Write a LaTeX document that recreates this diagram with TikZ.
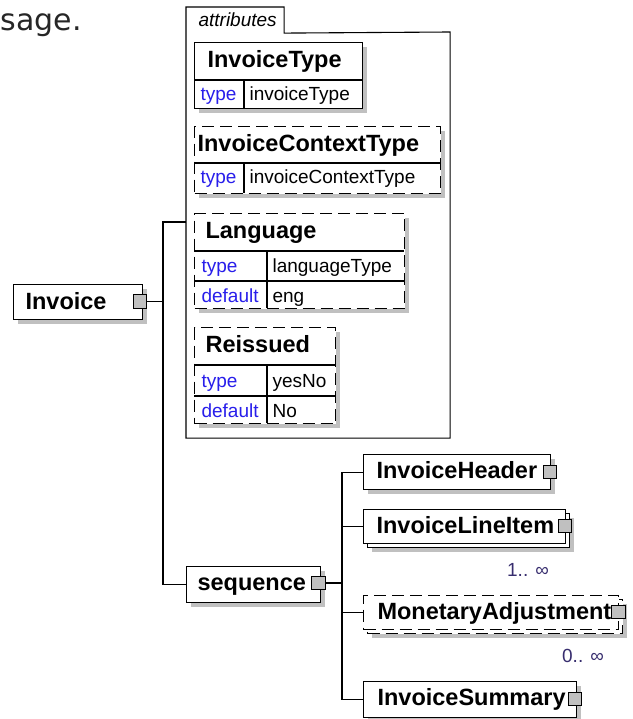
\documentclass[tikz,border=0pt]{standalone}
\usepackage{fontspec}
\setmainfont{Liberation Sans}
\newfontfamily\sagefont{DejaVu Sans}
\usetikzlibrary{shadows}
\definecolor{shgray}{RGB}{192,192,192}
\definecolor{sqgray}{RGB}{192,192,192}
\definecolor{typeblue}{RGB}{40,30,235}
\definecolor{labcol}{RGB}{55,45,110}
\newcommand\bigbold{\fontsize{23.5pt}{28pt}\selectfont\bfseries}
\newcommand\smalltxt{\fontsize{19pt}{23pt}\selectfont}
\begin{document}
\begin{tikzpicture}[x=1pt,y=-1pt,line width=1.1pt,
  ebox/.style={draw,fill=white,inner sep=0,anchor=north west,
    drop shadow={shadow xshift=4.5pt,shadow yshift=-4.5pt,fill=shgray,opacity=1}},
  pbox/.style={draw,fill=white,inner sep=0,anchor=north west},
  dsh/.style={dash pattern=on 12pt off 6pt},
  sq/.style={draw,fill=sqgray,minimum size=13.5pt,inner sep=0,line width=1pt},
  btxt/.style={anchor=base west,inner sep=0,font=\bigbold},
  stxt/.style={anchor=base west,inner sep=0,font=\smalltxt},
  ttxt/.style={stxt,text=typeblue},
  lab/.style={anchor=base,inner sep=0,font=\smalltxt,text=labcol},
  conn/.style={line width=1.1pt}]
\useasboundingbox (0,0) rectangle (632,719);

% fragment of preceding text
\node[anchor=base west,inner sep=0,font=\sagefont\fontsize{30pt}{36pt}\selectfont,text=black!85] (usage) at (0,31) {sage.};

% attributes container
\node[inner sep=0,minimum width=263pt,minimum height=405pt,anchor=north west] (attr) at (186,32) {};
\node[inner sep=0,minimum width=97pt,minimum height=25pt,anchor=north west] (tab) at (186,7) {};
\draw (attr.south west) -- (tab.north west) -- (tab.north east) -- (tab.south east) -- (attr.north east) -- (attr.south east) -- cycle;
\node[anchor=west,inner sep=0,font=\smalltxt\itshape] (attrlbl) at (198,20) {attributes};

% InvoiceType
\node[ebox,minimum width=168pt,minimum height=66pt] (it) at (194,42) {};
\draw (194,80) -- (362,80);
\draw (244,80) -- (244,108);
\node[btxt] (itT) at (207,68) {InvoiceType};
\node[ttxt] (itK) at (200,101) {type};
\node[stxt] (itV) at (249,101) {invoiceType};

% InvoiceContextType
\node[ebox,dsh,minimum width=246pt,minimum height=67pt] (ict) at (194,126) {};
\draw (194,163) -- (440,163);
\draw (244,163) -- (244,193);
\node[btxt] (ictT) at (197,152) {InvoiceContextType};
\node[ttxt] (ictK) at (200,184) {type};
\node[stxt] (ictV) at (249,184) {invoiceContextType};

% Language
\node[ebox,dsh,minimum width=210pt,minimum height=95pt] (lang) at (194,213) {};
\draw (194,251) -- (404,251);
\draw (194,281) -- (404,281);
\draw (267,251) -- (267,308);
\node[btxt] (langT) at (205,238) {Language};
\node[ttxt] (langK1) at (201,272) {type};
\node[stxt] (langV1) at (272,272) {languageType};
\node[ttxt] (langK2) at (201,302) {default};
\node[stxt] (langV2) at (272,302) {eng};

% Reissued
\node[ebox,dsh,minimum width=141pt,minimum height=96pt] (reis) at (194,327) {};
\draw (194,365) -- (335,365);
\draw (194,396) -- (335,396);
\draw (267,365) -- (267,423);
\node[btxt] (reisT) at (205,352) {Reissued};
\node[ttxt] (reisK1) at (201,387) {type};
\node[stxt] (reisV1) at (272,387) {yesNo};
\node[ttxt] (reisK2) at (201,417) {default};
\node[stxt] (reisV2) at (272,417) {No};

% Invoice
\node[ebox,minimum width=129pt,minimum height=35pt] (inv) at (13,284) {};
\node[btxt] (invT) at (25,309) {Invoice};
\node[sq] (invsq) at (140,301.5) {};

% sequence
\node[ebox,minimum width=134pt,minimum height=36pt] (seq) at (186,566) {};
\node[btxt] (seqT) at (197,590) {sequence};
\node[sq] (seqsq) at (318.5,583) {};

% InvoiceHeader
\node[ebox,minimum width=187pt,minimum height=35pt] (hdr) at (363,454) {};
\node[btxt] (hdrT) at (376,478) {InvoiceHeader};
\node[sq] (hdrsq) at (550,472) {};

% InvoiceLineItem
\node[ebox,minimum width=202pt,minimum height=34pt] (lineB) at (367,513) {};
\node[pbox,minimum width=202pt,minimum height=34pt] (line) at (363,509) {};
\node[btxt] (lineT) at (376,533) {InvoiceLineItem};
\node[sq] (linesq) at (565,526) {};
\node[lab] (lineL) at (528,576) {1.. ∞};

% MonetaryAdjustment
\node[ebox,dsh,minimum width=255pt,minimum height=34pt] (monB) at (367,599) {};
\node[pbox,dsh,minimum width=255pt,minimum height=34pt] (mon) at (363,595) {};
\node[btxt] (monT) at (377,619) {MonetaryAdjustment};
\node[sq] (monsq) at (618.5,612) {};
\node[lab] (monL) at (583,662) {0.. ∞};

% InvoiceSummary
\node[ebox,minimum width=213pt,minimum height=36pt] (sum) at (363,681) {};
\node[btxt] (sumT) at (377,705) {InvoiceSummary};
\node[sq] (sumsq) at (575,699) {};

% connectors
\coordinate (sp1) at (163,222);
\coordinate (attrin) at (186,222);
\coordinate (sp2) at (342,472);
\draw[conn] (invsq.east) -- (invsq.east -| sp1);
\draw[conn] (attrin) -- (sp1) -- (sp1 |- seq.west) -- (seq.west);
\draw[conn] (seqsq.east) -- (seqsq.east -| sp2);
\draw[conn] (sp2 |- hdr.west) -- (sp2 |- sum.west);
\draw[conn] (sp2 |- hdr.west) -- (hdr.west);
\draw[conn] (sp2 |- line.west) -- (line.west);
\draw[conn] (sp2 |- mon.west) -- (mon.west);
\draw[conn] (sp2 |- sum.west) -- (sum.west);
\end{tikzpicture}
\end{document}
